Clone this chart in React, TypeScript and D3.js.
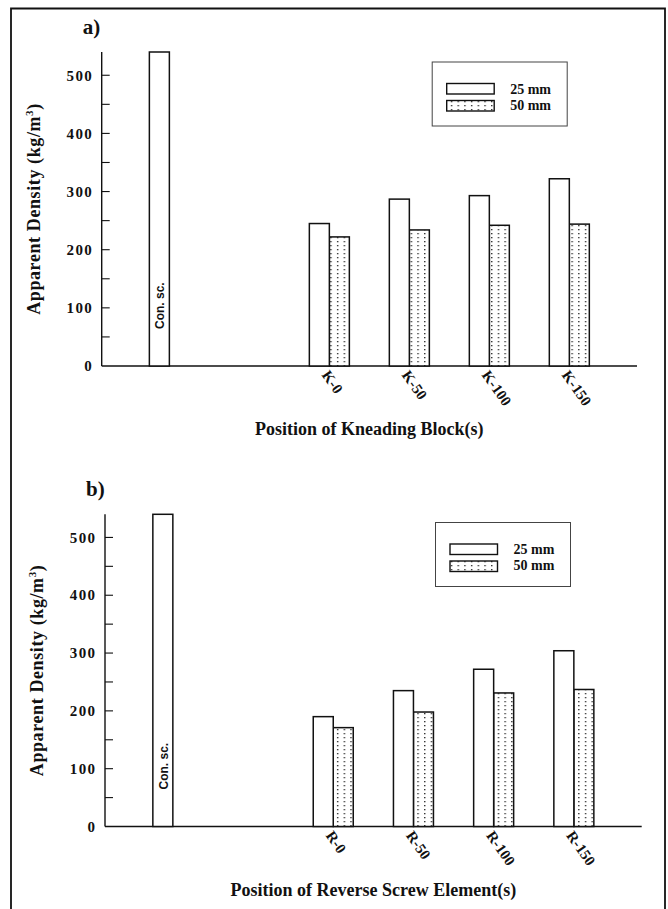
import React from "react";
import * as d3 from "d3";

// ---------- data ----------
const seriesNames = ["25 mm", "50 mm"];
const conScLabel = "Con. sc.";
const yMajorTicks = [0, 100, 200, 300, 400, 500];
const yAllTicks = [50, 100, 150, 200, 250, 300, 350, 400, 450, 500];
const yAxisMax = 540;

const kneadCategories = ["K-0", "K-50", "K-100", "K-150"];
const knead25 = [245, 287, 293, 322];
const knead50 = [222, 234, 242, 244];
const kneadConSc = 540;

const reverseCategories = ["R-0", "R-50", "R-100", "R-150"];
const reverse25 = [190, 235, 272, 304];
const reverse50 = [171, 198, 231, 237];
const reverseConSc = 540;

// ---------- layout ----------
const W = 668;
const H = 909;
const SERIF = "'Liberation Serif', 'DejaVu Serif', serif";
const SANS = "'Liberation Sans', Arial, sans-serif";

type Layout = { left: number; right: number; yZero: number; yTop: number };

const layoutA: Layout = { left: 101.7, right: 637, yZero: 366, yTop: 52 };
const layoutB: Layout = { left: 105, right: 641.7, yZero: 826.5, yTop: 514.3 };

type PanelProps = {
  tag: string;
  categories: string[];
  s25: number[];
  s50: number[];
  conSc: number;
  xTitle: string;
  L: Layout;
  patternId: string;
};

function Panel({ tag, categories, s25, s50, conSc, xTitle, L, patternId }: PanelProps) {
  // slot 0 = control screw, slot 1 empty, slots 2.. = categories
  const x = d3.scaleLinear().domain([-0.846, 5.846]).range([L.left, L.right]);
  const y = d3.scaleLinear().domain([0, yAxisMax]).range([L.yZero, L.yTop]);
  const inner = d3.scaleBand<string>().domain(seriesNames).range([-20, 20]);
  const bw = inner.bandwidth();
  const conX = x(0);
  const stroke = "#111";
  const legendX = L.left + 330.5;
  const legendY = L.yZero - 304;

  return (
    <g>
      <text x={L.left - 19} y={L.yTop - 18} fontFamily={SERIF} fontWeight="bold" fontSize={21} fill="#111">
        {tag}
      </text>

      {/* y axis */}
      <line x1={L.left} x2={L.left} y1={y(0)} y2={y(yAxisMax)} stroke={stroke} strokeWidth={1.4} />
      {yAllTicks.map((t) => (
        <line key={"t" + t} x1={L.left} x2={L.left + 8} y1={y(t)} y2={y(t)} stroke={stroke} strokeWidth={1.1} />
      ))}
      {yMajorTicks.map((t) => (
        <text
          key={"l" + t}
          x={L.left - 8.5}
          y={y(t)}
          dy="0.35em"
          textAnchor="end"
          fontFamily={SERIF}
          fontWeight="bold"
          fontSize={15}
          letterSpacing={1.4}
          fill="#111"
        >
          {t}
        </text>
      ))}
      <text
        transform={`translate(${L.left - 62},${(L.yZero + L.yTop) / 2}) rotate(-90)`}
        textAnchor="middle"
        fontFamily={SERIF}
        fontWeight="bold"
        fontSize={18}
        letterSpacing={0.6}
        fill="#111"
      >
        Apparent Density (kg/m
        <tspan dy={-7} fontSize={11}>3</tspan>
        <tspan dy={7}>)</tspan>
      </text>

      {/* x axis */}
      <line x1={L.left} x2={L.right} y1={y(0)} y2={y(0)} stroke={stroke} strokeWidth={1.6} />

      {/* control bar */}
      <rect
        x={conX + (inner("25 mm") as number)}
        y={y(conSc)}
        width={bw}
        height={y(0) - y(conSc)}
        fill="#fff"
        stroke={stroke}
        strokeWidth={1.5}
      />
      <text
        transform={`translate(${conX - bw / 2 + 5},${L.yZero - 37}) rotate(-90)`}
        fontFamily={SANS}
        fontWeight="bold"
        fontSize={12}
        fill="#111"
      >
        {conScLabel}
      </text>

      {/* grouped bars */}
      {categories.map((c, i) => {
        const cx = x(i + 2);
        return (
          <g key={c}>
            <rect
              x={cx + (inner("50 mm") as number)}
              y={y(s50[i])}
              width={bw}
              height={y(0) - y(s50[i])}
              fill={`url(#${patternId})`}
              stroke={stroke}
              strokeWidth={1.5}
            />
            <rect
              x={cx + (inner("25 mm") as number)}
              y={y(s25[i])}
              width={bw}
              height={y(0) - y(s25[i])}
              fill="#fff"
              stroke={stroke}
              strokeWidth={1.5}
            />
            <text
              transform={`translate(${cx - 8},${L.yZero + 9}) rotate(55)`}
              fontFamily={SERIF}
              fontWeight="bold"
              fontSize={15}
              fill="#111"
            >
              {c}
            </text>
          </g>
        );
      })}

      <text
        x={(L.left + L.right) / 2}
        y={L.yZero + 69}
        textAnchor="middle"
        fontFamily={SERIF}
        fontWeight="bold"
        fontSize={18}
        fill="#111"
      >
        {xTitle}
      </text>

      {/* legend */}
      <rect x={legendX} y={legendY} width={135} height={64} fill="#fff" stroke="#444" strokeWidth={1} />
      {seriesNames.map((s, k) => (
        <g key={s}>
          <rect
            x={legendX + 14.5}
            y={legendY + 21.5 + k * 17}
            width={47.5}
            height={10.5}
            fill={k === 0 ? "#fff" : `url(#${patternId})`}
            stroke={stroke}
            strokeWidth={1.4}
          />
          <text
            x={legendX + 78}
            y={legendY + 31.5 + k * 16}
            fontFamily={SERIF}
            fontWeight="bold"
            fontSize={14}
            fill="#111"
          >
            {s}
          </text>
        </g>
      ))}
    </g>
  );
}

export default function App() {
  return (
    <div style={{ position: "absolute", left: 0, top: 0 }}>
      <svg width={W} height={H} viewBox={`0 0 ${W} ${H}`} style={{ display: "block", background: "#fff" }}>
        <defs>
          <pattern id="dotsA" patternUnits="userSpaceOnUse" width={6.7} height={4}>
            <rect width={6.7} height={4} fill="#fff" />
            <rect x={2} y={1} width={1.3} height={1.3} fill="#222" />
          </pattern>
          <pattern id="dotsB" patternUnits="userSpaceOnUse" width={6.7} height={4}>
            <rect width={6.7} height={4} fill="#fff" />
            <rect x={2} y={1} width={1.3} height={1.3} fill="#222" />
          </pattern>
        </defs>
        <rect x={0} y={0} width={W} height={H} fill="#fff" />
        {/* outer frame */}
        <path d={`M11,${H + 2} L11,8.5 L665,8.5 L665,${H + 2}`} fill="none" stroke="#111" strokeWidth={1.8} />
        <Panel
          tag="a)"
          categories={kneadCategories}
          s25={knead25}
          s50={knead50}
          conSc={kneadConSc}
          xTitle="Position of Kneading Block(s)"
          L={layoutA}
          patternId="dotsA"
        />
        <Panel
          tag="b)"
          categories={reverseCategories}
          s25={reverse25}
          s50={reverse50}
          conSc={reverseConSc}
          xTitle="Position of Reverse Screw Element(s)"
          L={layoutB}
          patternId="dotsB"
        />
      </svg>
    </div>
  );
}
